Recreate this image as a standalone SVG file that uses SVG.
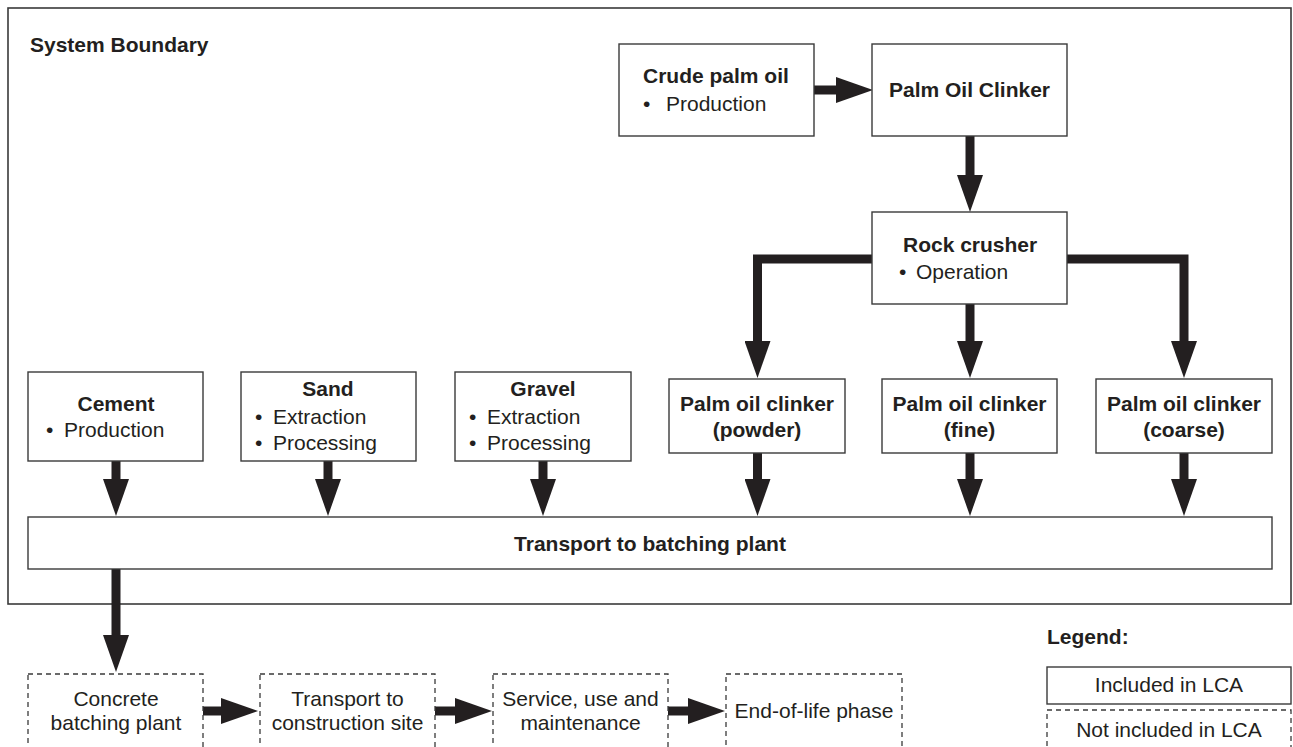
<svg xmlns="http://www.w3.org/2000/svg" width="1293" height="747" viewBox="0 0 1293 747">
  <defs>
    <style>
      text { font-family: "Liberation Sans", Arial, sans-serif; font-size: 21px; fill: #231f20; }
      .b { font-weight: bold; }
      .c { text-anchor: middle; }
      .box { fill: #fff; stroke: #3a3a3a; stroke-width: 1.4; }
      .dash { fill: #fff; stroke: #3a3a3a; stroke-width: 1.3; stroke-dasharray: 5 4; }
      .bound { fill: none; stroke: #3a3a3a; stroke-width: 1.6; }
      .flow { fill: none; stroke: #231f20; stroke-width: 9; stroke-linejoin: miter; marker-end: url(#head); }
    </style>
    <marker id="head" viewBox="0 0 37 26" markerWidth="37" markerHeight="26" refX="1" refY="13" markerUnits="userSpaceOnUse" orient="auto">
      <path d="M0,0 L37,13 L0,26 Z" fill="#231f20"/>
    </marker>
  </defs>

  <rect width="1293" height="747" fill="#fff"/>

  <!-- system boundary -->
  <g id="boundary">
    <rect class="bound" x="8" y="8" width="1283" height="596"/>
    <text class="b" x="30" y="52">System Boundary</text>
  </g>

  <!-- connectors -->
  <g id="connectors">
    <path class="flow" d="M814,90 H837"/>
    <path class="flow" d="M970,136 V176"/>
    <path class="flow" d="M872,259 H757.5 V342"/>
    <path class="flow" d="M970,304 V342"/>
    <path class="flow" d="M1067,259 H1184 V342"/>
    <path class="flow" d="M116,461 V480"/>
    <path class="flow" d="M328,461 V480"/>
    <path class="flow" d="M543,461 V480"/>
    <path class="flow" d="M757.5,453 V480"/>
    <path class="flow" d="M970,453 V480"/>
    <path class="flow" d="M1184,453 V480"/>
    <path class="flow" d="M116,569 V636"/>
    <path class="flow" d="M203,711 H222"/>
    <path class="flow" d="M435,711 H456"/>
    <path class="flow" d="M668,711 H689"/>
  </g>

  <!-- included processes -->
  <g id="crude-palm-oil">
    <rect class="box" x="619" y="44" width="195" height="92"/>
    <text class="b" x="643" y="83">Crude palm oil</text>
    <text x="643" y="111">•</text>
    <text x="666" y="111">Production</text>
  </g>
  <g id="palm-oil-clinker">
    <rect class="box" x="872" y="44" width="195" height="92"/>
    <text class="b c" x="969.5" y="97">Palm Oil Clinker</text>
  </g>
  <g id="rock-crusher">
    <rect class="box" x="872" y="212" width="195" height="92"/>
    <text class="b" x="903" y="252">Rock crusher</text>
    <text x="899" y="279">•</text>
    <text x="916" y="279">Operation</text>
  </g>
  <g id="cement">
    <rect class="box" x="28" y="372" width="175" height="89"/>
    <text class="b c" x="116" y="411">Cement</text>
    <text x="46" y="437">•</text>
    <text x="64" y="437">Production</text>
  </g>
  <g id="sand">
    <rect class="box" x="241" y="372" width="175" height="89"/>
    <text class="b c" x="328" y="396">Sand</text>
    <text x="255" y="424">•</text>
    <text x="273" y="424">Extraction</text>
    <text x="255" y="450">•</text>
    <text x="273" y="450">Processing</text>
  </g>
  <g id="gravel">
    <rect class="box" x="455" y="372" width="176" height="89"/>
    <text class="b c" x="543" y="396">Gravel</text>
    <text x="469" y="424">•</text>
    <text x="487" y="424">Extraction</text>
    <text x="469" y="450">•</text>
    <text x="487" y="450">Processing</text>
  </g>
  <g id="clinker-powder">
    <rect class="box" x="669" y="379" width="176" height="74"/>
    <text class="b c" x="757" y="411">Palm oil clinker</text>
    <text class="b c" x="757" y="437">(powder)</text>
  </g>
  <g id="clinker-fine">
    <rect class="box" x="882" y="379" width="175" height="74"/>
    <text class="b c" x="969.5" y="411">Palm oil clinker</text>
    <text class="b c" x="969.5" y="437">(fine)</text>
  </g>
  <g id="clinker-coarse">
    <rect class="box" x="1096" y="379" width="176" height="74"/>
    <text class="b c" x="1184" y="411">Palm oil clinker</text>
    <text class="b c" x="1184" y="437">(coarse)</text>
  </g>
  <g id="transport-batching">
    <rect class="box" x="28" y="517" width="1244" height="52"/>
    <text class="b c" x="650" y="551">Transport to batching plant</text>
  </g>

  <!-- excluded processes -->
  <g id="concrete-batching">
    <rect class="dash" x="28" y="674" width="175" height="80"/>
    <text class="c" x="116" y="706">Concrete</text>
    <text class="c" x="116" y="730">batching plant</text>
  </g>
  <g id="transport-site">
    <rect class="dash" x="260" y="674" width="175" height="80"/>
    <text class="c" x="347.5" y="706">Transport to</text>
    <text class="c" x="347.5" y="730">construction site</text>
  </g>
  <g id="service-use">
    <rect class="dash" x="493" y="674" width="175" height="80"/>
    <text class="c" x="580.5" y="706">Service, use and</text>
    <text class="c" x="580.5" y="730">maintenance</text>
  </g>
  <g id="end-of-life">
    <rect class="dash" x="726" y="674" width="176" height="80"/>
    <text class="c" x="814" y="718">End-of-life phase</text>
  </g>

  <!-- legend -->
  <g id="legend">
    <text class="b" x="1047" y="644">Legend:</text>
    <rect class="box" x="1047" y="667" width="244" height="37"/>
    <text class="c" x="1169" y="692">Included in LCA</text>
    <rect class="dash" x="1047" y="710" width="244" height="44"/>
    <text class="c" x="1169" y="737">Not included in LCA</text>
  </g>
</svg>
